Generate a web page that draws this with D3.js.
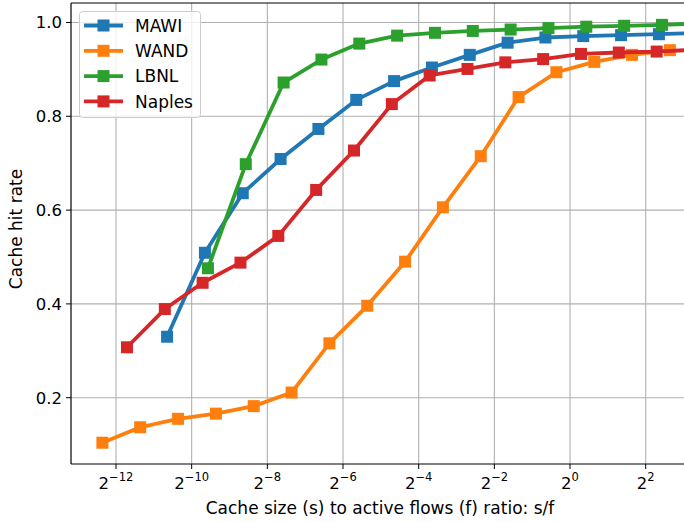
<!DOCTYPE html>
<html>
<head>
<meta charset="utf-8">
<script src="https://cdn.jsdelivr.net/npm/d3@7/dist/d3.min.js"></script>
<style>
  html, body { margin: 0; padding: 0; background: #fff; }
  svg { display: block; font-family: "DejaVu Sans", sans-serif; }
</style>
</head>
<body>
<svg id="chart" width="684" height="522"></svg>
<script>
// ---- data (x given as log2 of s/f ratio) ----
const seriesNames = ["MAWI", "WAND", "LBNL", "Naples"];
const seriesColors = ["#1f77b4", "#ff7f0e", "#2ca02c", "#d62728"];

const mawiExp = [-10.65,-9.65,-8.65,-7.65,-6.65,-5.65,-4.65,-3.65,-2.65,-1.65,-0.65,0.35,1.35,2.35,3.35];
const mawiHit = [0.330,0.509,0.636,0.709,0.773,0.835,0.875,0.904,0.931,0.957,0.968,0.971,0.973,0.975,0.978];

const wandExp = [-12.36,-11.36,-10.36,-9.36,-8.36,-7.36,-6.36,-5.36,-4.36,-3.36,-2.36,-1.36,-0.36,0.64,1.64,2.64];
const wandHit = [0.104,0.137,0.155,0.166,0.182,0.211,0.316,0.396,0.490,0.606,0.715,0.841,0.894,0.916,0.931,0.941];

const lbnlExp = [-9.57,-8.57,-7.57,-6.57,-5.57,-4.57,-3.57,-2.57,-1.57,-0.57,0.43,1.43,2.43,3.43];
const lbnlHit = [0.476,0.698,0.872,0.921,0.955,0.972,0.978,0.982,0.985,0.988,0.991,0.993,0.995,0.998];

const naplesExp = [-11.71,-10.71,-9.71,-8.71,-7.71,-6.71,-5.71,-4.71,-3.71,-2.71,-1.71,-0.71,0.29,1.29,2.29,3.29];
const naplesHit = [0.3075,0.389,0.445,0.488,0.545,0.643,0.727,0.826,0.887,0.901,0.915,0.922,0.933,0.936,0.938,0.942];

const xTickExps = [-12,-10,-8,-6,-4,-2,0,2];
const yTicks = [0.2,0.4,0.6,0.8,1.0];
const xLabel = "Cache size (s) to active flows (f) ratio: s/f";
const yLabel = "Cache hit rate";

const series = [
  {name: seriesNames[0], color: seriesColors[0], exps: mawiExp, vals: mawiHit},
  {name: seriesNames[1], color: seriesColors[1], exps: wandExp, vals: wandHit},
  {name: seriesNames[2], color: seriesColors[2], exps: lbnlExp, vals: lbnlHit},
  {name: seriesNames[3], color: seriesColors[3], exps: naplesExp, vals: naplesHit}
];

// ---- layout ----
const svg = d3.select("#chart");
const L = 71, T = 3, B = 464, R = 760;

const x = d3.scaleLog().base(2).domain([Math.pow(2,-12), Math.pow(2,2)]).range([116, 645.7]);
const y = d3.scaleLinear().domain([0.2, 1.0]).range([397.7, 22.5]);

svg.append("defs").append("clipPath").attr("id","clip")
  .append("rect").attr("x", L).attr("y", T).attr("width", R - L).attr("height", B - T);

// grid
const grid = svg.append("g");
xTickExps.forEach(e => {
  grid.append("line").attr("x1", x(Math.pow(2,e))).attr("x2", x(Math.pow(2,e)))
    .attr("y1", T).attr("y2", B).attr("stroke", "#b0b0b0").attr("stroke-width", 1.1);
});
yTicks.forEach(v => {
  grid.append("line").attr("x1", L).attr("x2", R).attr("y1", y(v)).attr("y2", y(v))
    .attr("stroke", "#b0b0b0").attr("stroke-width", 1.1);
});

// series
const plot = svg.append("g").attr("clip-path", "url(#clip)");
const line = d3.line().x(d => x(Math.pow(2, d[0]))).y(d => y(d[1]));
const ms = 12;
series.forEach(s => {
  const pts = s.exps.map((e, i) => [e, s.vals[i]]);
  plot.append("path").datum(pts).attr("d", line).attr("fill", "none")
    .attr("stroke", s.color).attr("stroke-width", 3.8).attr("stroke-linejoin", "round");
  plot.selectAll(null).data(pts).enter().append("rect")
    .attr("x", d => x(Math.pow(2, d[0])) - ms/2).attr("y", d => y(d[1]) - ms/2)
    .attr("width", ms).attr("height", ms).attr("fill", s.color);
});

// spines
svg.append("line").attr("x1", L).attr("x2", L).attr("y1", T).attr("y2", B).attr("stroke", "#000").attr("stroke-width", 1.2);
svg.append("line").attr("x1", L).attr("x2", R).attr("y1", B).attr("y2", B).attr("stroke", "#000").attr("stroke-width", 1.2);
svg.append("line").attr("x1", L).attr("x2", R).attr("y1", T).attr("y2", T).attr("stroke", "#000").attr("stroke-width", 1.2);

// x ticks
const fs = 16.5;
const lfs = 17;
xTickExps.forEach(e => {
  const px = x(Math.pow(2,e));
  svg.append("line").attr("x1", px).attr("x2", px).attr("y1", B).attr("y2", B + 5).attr("stroke", "#000").attr("stroke-width", 1);
  const t = svg.append("text").attr("x", px).attr("y", B + 25).attr("text-anchor", "middle")
    .attr("font-size", fs).attr("fill", "#000");
  t.append("tspan").text("2");
  t.append("tspan").attr("dy", -8).attr("font-size", 11.5).text(e < 0 ? "\u2212" + Math.abs(e) : String(e));
});

// y ticks
yTicks.forEach(v => {
  const py = y(v);
  svg.append("line").attr("x1", L - 5).attr("x2", L).attr("y1", py).attr("y2", py).attr("stroke", "#000").attr("stroke-width", 1);
  svg.append("text").attr("x", L - 9).attr("y", py).attr("dy", "0.36em").attr("text-anchor", "end")
    .attr("font-size", fs).attr("fill", "#000").text(v.toFixed(1));
});

// axis labels
svg.append("text").attr("x", 380).attr("y", 514).attr("text-anchor", "middle")
  .attr("font-size", lfs).attr("fill", "#000").text(xLabel);
svg.append("text").attr("transform", "translate(22," + 229 + ") rotate(-90)")
  .attr("text-anchor", "middle").attr("font-size", lfs).attr("fill", "#000").text(yLabel);

// legend
const lg = svg.append("g");
lg.append("rect").attr("x", 79.5).attr("y", 11.5).attr("width", 121).attr("height", 106).attr("rx", 3)
  .attr("fill", "#fff").attr("fill-opacity", 0.8).attr("stroke", "#cccccc").attr("stroke-width", 1);
series.forEach((s, i) => {
  const cy = 25.5 + i * 25.3;
  lg.append("line").attr("x1", 84).attr("x2", 123).attr("y1", cy).attr("y2", cy)
    .attr("stroke", s.color).attr("stroke-width", 3.8);
  lg.append("rect").attr("x", 103.5 - ms/2).attr("y", cy - ms/2).attr("width", ms).attr("height", ms).attr("fill", s.color);
  lg.append("text").attr("x", 135).attr("y", cy).attr("dy", "0.36em").attr("font-size", lfs).attr("fill", "#000").text(s.name);
});
</script>
</body>
</html>
